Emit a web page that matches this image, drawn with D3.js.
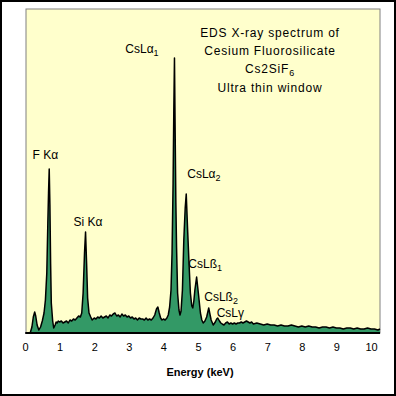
<!DOCTYPE html>
<html>
<head>
<meta charset="utf-8">
<script src="https://cdn.jsdelivr.net/npm/d3@7"></script>
<style>
  body { margin: 0; background: #fff; }
  svg { display: block; font-family: "Liberation Sans", Arial, sans-serif; }
</style>
</head>
<body>
<svg id="chart" width="396" height="396"></svg>
<script>
// spectrum: energy (keV) and counts (arbitrary units)
const energy = [
  0.00, 0.15, 0.20, 0.24, 0.28, 0.31, 0.35, 0.40, 0.45, 0.50, 0.55, 0.59, 0.63, 0.66, 0.68, 0.70,
  0.72, 0.74, 0.76, 0.80, 0.83, 0.87, 0.90, 0.93, 0.96, 1.00, 1.05, 1.10, 1.15, 1.20, 1.25, 1.30,
  1.35, 1.40, 1.45, 1.50, 1.55, 1.60, 1.64, 1.68, 1.72, 1.75, 1.78, 1.81, 1.85, 1.90, 1.94, 2.00,
  2.05, 2.10, 2.15, 2.20, 2.25, 2.30, 2.35, 2.40, 2.45, 2.50, 2.55, 2.60, 2.65, 2.70, 2.75, 2.80,
  2.85, 2.90, 2.95, 3.00, 3.05, 3.10, 3.15, 3.20, 3.25, 3.30, 3.35, 3.40, 3.45, 3.50, 3.55, 3.60,
  3.65, 3.70, 3.75, 3.80, 3.84, 3.88, 3.92, 3.96, 4.00, 4.05, 4.10, 4.14, 4.18, 4.22, 4.25, 4.28,
  4.30, 4.32, 4.34, 4.36, 4.38, 4.41, 4.45, 4.48, 4.51, 4.55, 4.59, 4.63, 4.66, 4.70, 4.74, 4.78,
  4.82, 4.85, 4.88, 4.91, 4.96, 5.01, 5.07, 5.11, 5.15, 5.20, 5.25, 5.31, 5.35, 5.38, 5.44, 5.50,
  5.54, 5.57, 5.62, 5.66, 5.70, 5.75, 5.80, 5.85, 5.90, 5.95, 6.00, 6.05, 6.10, 6.15, 6.20, 6.25,
  6.30, 6.35, 6.40, 6.45, 6.50, 6.55, 6.60, 6.70, 6.80, 6.90, 7.00, 7.10, 7.20, 7.30, 7.40, 7.50,
  7.60, 7.70, 7.80, 7.90, 8.00, 8.10, 8.20, 8.30, 8.40, 8.50, 8.60, 8.70, 8.80, 8.90, 9.00, 9.10,
  9.20, 9.30, 9.40, 9.50, 9.60, 9.70, 9.80, 9.90, 10.00, 10.10, 10.20, 10.26
];
const counts = [
  0, 0, 6, 16, 21, 17, 8, 3, 6, 12, 20, 33, 60, 110, 140, 164,
  128, 70, 30, 12, 5, 8, 11, 10, 12, 11, 12, 10, 11, 12, 10, 13,
  12, 14, 13, 15, 17, 16, 20, 40, 80, 101, 70, 35, 20, 16, 13, 15,
  14, 16, 15, 17, 15, 16, 17, 15, 18, 17, 19, 20, 17, 18, 16, 19,
  17, 18, 16, 17, 15, 16, 14, 15, 13, 15, 14, 14, 13, 15, 13, 14,
  13, 15, 18, 24, 26, 20, 15, 13, 14, 13, 15, 18, 26, 43, 80, 150,
  220, 275, 200, 130, 86, 40, 23, 18, 22, 43, 93, 125, 139, 103, 70, 40,
  27, 25, 32, 43, 56, 40, 20, 13, 10, 12, 16, 25, 18, 13, 8, 11,
  14, 15, 12, 10, 9, 8, 10, 11, 9, 10, 9, 10, 9, 10, 10, 11,
  10, 11, 12, 11, 10, 11, 9, 10, 9, 8, 9, 8, 8, 7, 8, 7,
  7, 8, 7, 6, 7, 6, 7, 6, 6, 5, 6, 6, 5, 6, 5, 5,
  4, 5, 5, 4, 5, 4, 4, 5, 4, 4, 3, 4
];
const tickValues = [0, 1, 2, 3, 4, 5, 6, 7, 8, 9, 10];
// peak labels: main text, subscript, anchor in (keV, counts)
const labelText = ["F Kα", "CsLα", "Si Kα", "CsLα", "CsLß", "CsLß", "CsLγ"];
const labelSub  = ["", "1", "", "2", "1", "2", ""];
const labelE    = [0.22, 2.90, 1.40, 4.69, 4.72, 5.18, 5.54];
const labelC    = [174, 280, 107, 155, 65, 32, 16];
const titleLines = ["EDS X-ray spectrum of", "Cesium Fluorosilicate", "Cs2SiF", "Ultra thin window"];
const titleSubs  = ["", "", "6", ""];

const svg = d3.select('#chart');
const plot = { left: 26, top: 9, right: 380, bottom: 333 };

const x = d3.scaleLinear().domain([0, 10.26]).range([25, 380]);
const y = d3.scaleLinear().domain([0, 324]).range([333, 9]);

// outer frame
svg.append('rect')
  .attr('x', 1).attr('y', 1).attr('width', 394).attr('height', 394)
  .attr('fill', '#fff').attr('stroke', '#000').attr('stroke-width', 2);

// plot background
svg.append('rect')
  .attr('x', plot.left).attr('y', plot.top)
  .attr('width', plot.right - plot.left).attr('height', plot.bottom - plot.top)
  .attr('fill', '#ffffcc').attr('stroke', '#808080').attr('stroke-width', 1);

const pts = energy.map((e, i) => [e, counts[i]]);

const area = d3.area()
  .x(d => x(d[0]))
  .y0(y(0))
  .y1(d => y(d[1]));

const line = d3.line()
  .x(d => x(d[0]))
  .y(d => y(d[1]));

svg.append('path')
  .datum(pts)
  .attr('d', area)
  .attr('fill', '#339966');

svg.append('path')
  .datum(pts)
  .attr('d', line)
  .attr('fill', 'none')
  .attr('stroke', '#000')
  .attr('stroke-width', 1.5)
  .attr('stroke-linejoin', 'round');

// x axis
const xAxis = svg.append('g')
  .attr('transform', 'translate(0,' + plot.bottom + ')')
  .call(d3.axisBottom(x).tickValues(tickValues).tickSize(0).tickPadding(10).tickFormat(d3.format('d')));
xAxis.select('.domain')
  .attr('d', 'M' + plot.left + ',0H' + plot.right)
  .attr('stroke', '#000').attr('stroke-width', 2);
xAxis.selectAll('text')
  .attr('font-size', 11).attr('font-family', '"Liberation Sans", Arial, sans-serif').attr('fill', '#000');

svg.append('text')
  .attr('x', 200).attr('y', 376)
  .attr('text-anchor', 'middle')
  .attr('font-size', 11).attr('font-weight', 'bold')
  .text('Energy (keV)');

// peak labels
labelText.forEach((t, i) => {
  const txt = svg.append('text')
    .attr('x', x(labelE[i])).attr('y', y(labelC[i]))
    .attr('font-size', 12)
    .text(t);
  if (labelSub[i]) {
    txt.append('tspan').attr('font-size', 9).attr('dy', 3).text(labelSub[i]);
  }
});

// title block
titleLines.forEach((t, i) => {
  const txt = svg.append('text')
    .attr('x', 270).attr('y', 37 + i * 18.2)
    .attr('text-anchor', 'middle')
    .attr('font-size', 12)
    .attr('letter-spacing', 0.8)
    .text(t);
  if (titleSubs[i]) {
    txt.append('tspan').attr('font-size', 9).attr('dy', 3).text(titleSubs[i]);
  }
});
</script>
</body>
</html>
